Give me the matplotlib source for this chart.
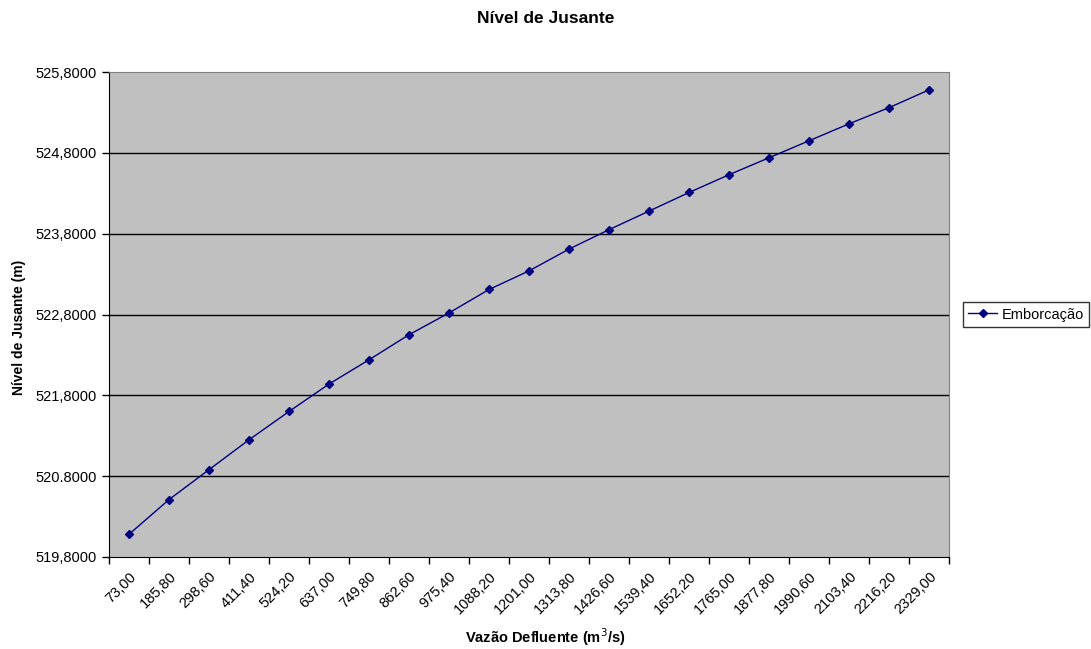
import numpy as np
import matplotlib
matplotlib.use('Agg')
import matplotlib.pyplot as plt

plt.rcParams['font.family'] = ['Liberation Sans', 'DejaVu Sans']

#vazao defluente (categorias do eixo x)
vazao = ['73,00', '185,80', '298,60', '411,40', '524,20', '637,00', '749,80',
         '862,60', '975,40', '1088,20', '1201,00', '1313,80', '1426,60', '1539,40',
         '1652,20', '1765,00', '1877,80', '1990,60', '2103,40', '2216,20', '2329,00']
#nivel de jusante - Emborcacao
nivel = [520.08, 520.51, 520.88, 521.25, 521.60, 521.94, 522.24,
         522.55, 522.82, 523.11, 523.34, 523.61, 523.85, 524.08,
         524.31, 524.53, 524.74, 524.95, 525.16, 525.36, 525.58]
yticks = [519.8, 520.8, 521.8, 522.8, 523.8, 524.8, 525.8]
ylabels = ['519,8000', '520.8000', '521,8000', '522,8000', '523,8000', '524,8000', '525,8000']

fig = plt.figure(figsize=(10.91, 6.49), dpi=100)
ax = fig.add_axes([0.0999, 0.1418, 0.7701, 0.7472])
ax.set_facecolor('#c0c0c0')

x = np.arange(len(vazao))
for y in yticks[1:-1]:
    ax.axhline(y, color='black', lw=1, zorder=1)
ax.plot(x, nivel, color='#000080', lw=1, marker='D', markersize=4.5,
        label='Emborcação', zorder=3)

ax.set_xlim(-0.5, len(vazao) - 0.5)
ax.set_ylim(519.8, 525.8)
ax.set_yticks(yticks)
ax.set_yticklabels(ylabels, fontsize=10.5)

#marcas entre categorias, rotulos no centro
ax.set_xticks(np.arange(len(vazao) + 1) - 0.5)
ax.set_xticklabels([])
ax.set_xticks(x, minor=True)
ax.set_xticklabels(vazao, minor=True, rotation=45, ha='right', va='top',
                   rotation_mode='anchor', fontsize=10.5)
ax.tick_params(axis='x', which='minor', length=0, pad=9)
ax.tick_params(axis='x', which='major', length=5, width=1, direction='out')
ax.tick_params(axis='y', length=5, width=1, direction='out', pad=4)

for s in ['top', 'right']:
    ax.spines[s].set_color('#808080')
for s in ['left', 'bottom']:
    ax.spines[s].set_color('black')

fig.text(0.5, 0.972, 'Nível de Jusante', ha='center', va='center',
         fontsize=12.5, fontweight='bold')
fig.text(0.5, 0.018, 'Vazão Defluente (m$^3$/s)', ha='center', va='center',
         fontsize=10.5, fontweight='bold')
fig.text(0.017, 0.495, 'Nível de Jusante (m)', ha='center', va='center',
         rotation=90, fontsize=10, fontweight='bold')

leg = ax.legend(loc='center left', bbox_to_anchor=(1.013, 0.5), frameon=True,
                fancybox=False, edgecolor='black', fontsize=10.5,
                handlelength=2.0, borderpad=0.35, handletextpad=0.3,
                borderaxespad=0.2)
leg.get_frame().set_linewidth(1)

fig.savefig('out.png', dpi=100)
